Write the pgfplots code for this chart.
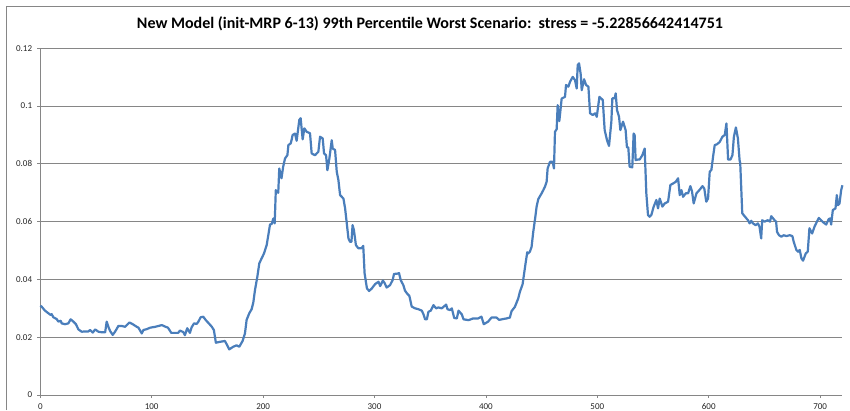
\documentclass[border=0pt]{standalone}
\usepackage{pgfplots}
\pgfplotsset{compat=1.18}
\usepackage{pgfplotstable}
\usepackage{fontspec}
\setmainfont{Carlito}
\definecolor{xlblue}{RGB}{74,126,187}
\definecolor{xlgrid}{RGB}{134,134,134}
\definecolor{xlframe}{RGB}{134,134,134}
\pgfplotstableread{
x y
0 0.0309
1.2 0.0306
4.2 0.0292
7.2 0.0283
9.3 0.0277
10.2 0.0280
11.7 0.0269
14.7 0.0263
16.2 0.0254
18.3 0.0257
19.2 0.0248
22.2 0.0245
25.2 0.0248
27.2 0.0262
29.7 0.0254
32 0.0245
34.2 0.0227
37.2 0.0219
40.2 0.0220
43.2 0.0220
44.7 0.0225
47.1 0.0216
49.2 0.0227
52.2 0.0219
55.2 0.0217
58.2 0.0217
59.6 0.0254
61.1 0.0236
62.6 0.0222
65 0.0208
67.1 0.0219
70.1 0.0239
73.1 0.0239
76.1 0.0236
80 0.0251
83 0.0245
86.6 0.0236
88.1 0.0233
91.1 0.0213
92.6 0.0225
95.6 0.0228
98.6 0.0233
103.1 0.0236
106.1 0.0239
109.1 0.0242
112.5 0.0236
114.6 0.0233
117.6 0.0215
120.6 0.0215
123.8 0.0215
125.3 0.0223
128.3 0.0218
129.8 0.0207
131.9 0.0231
134.3 0.0215
135.8 0.0234
138 0.0248
140.3 0.0246
141.8 0.0253
143.9 0.0269
146.3 0.0271
148.6 0.0259
151.7 0.0246
153.8 0.0237
155.8 0.0225
157.6 0.0181
161.2 0.0184
165.7 0.0187
167.8 0.0172
169.6 0.0158
173.2 0.0167
176.2 0.0172
178.6 0.0167
181.6 0.0187
183.7 0.0213
185.2 0.0260
187.6 0.0283
189.7 0.0297
191.2 0.0320
192.7 0.0363
194.8 0.0409
196.6 0.0456
198.7 0.0473
200.8 0.0490
203.2 0.0519
204.7 0.0554
206.2 0.0590
207.7 0.0592
209.2 0.0611
210.4 0.0594
211.4 0.0709
213.6 0.0700
214.5 0.0784
216.5 0.0750
218.0 0.0790
219.7 0.0819
221.8 0.0830
222.7 0.0865
224.8 0.0871
225.7 0.0885
226.5 0.0900
228.6 0.0905
230.1 0.0880
232.5 0.0952
233.7 0.0958
235.5 0.0885
237 0.0923
239.1 0.0911
242.1 0.0906
243.6 0.0836
246.6 0.0830
249.6 0.0842
251.1 0.0894
253.5 0.0888
254.7 0.0836
256.5 0.0830
257.7 0.0778
259.5 0.0819
261.6 0.0882
262.5 0.0853
264.6 0.0848
266.1 0.0773
267.6 0.0744
269.1 0.0692
272.1 0.0680
273.6 0.0646
275.1 0.0594
276.6 0.0542
278.1 0.0530
279.3 0.0530
280.3 0.0588
281.5 0.0571
283.3 0.0519
285.4 0.0508
288.4 0.0508
289.9 0.0516
291.1 0.0421
293.2 0.0369
295.2 0.0360
297.6 0.0369
300.6 0.0384
303.6 0.0392
305.1 0.0377
307.5 0.0396
309 0.0388
310.9 0.0372
313.9 0.0380
316.3 0.0398
317.5 0.0419
320.5 0.0420
322 0.0422
323.5 0.0398
325.9 0.0380
327.4 0.0361
329.5 0.0350
331.3 0.0343
333.4 0.0306
336.4 0.0300
339.4 0.0297
342.4 0.0292
343.9 0.0280
345.4 0.0262
347 0.0262
348.4 0.0288
350.5 0.0292
352.9 0.0311
355.3 0.0300
357.4 0.0303
360.4 0.0300
364.3 0.0313
365.5 0.0297
367.9 0.0294
369.4 0.0300
371.5 0.0267
373.9 0.0265
375.4 0.0292
378.4 0.0279
379.9 0.0262
384.4 0.0259
388.5 0.0265
393 0.0265
396 0.0271
398.1 0.0245
402 0.0254
405 0.0268
409.5 0.0268
411.9 0.0260
415.5 0.0263
418.5 0.0265
421.5 0.0268
423 0.0290
426 0.0305
429 0.0334
430.5 0.0357
432.9 0.0383
434.1 0.0415
435.6 0.0456
437.1 0.0494
438 0.0490
439.5 0.0496
441 0.0513
442.5 0.0565
444 0.0606
445.5 0.0652
447 0.0678
450 0.0698
451.5 0.0709
453 0.0721
454.5 0.0738
455.4 0.0784
457.5 0.0807
459.9 0.0807
461.1 0.0784
462 0.0911
463.5 0.0920
464.4 0.1003
465.9 0.0948
468 0.1026
471 0.1032
471.9 0.1073
474 0.1067
475.5 0.1084
477.9 0.1101
480 0.1090
481.5 0.1061
482.4 0.1142
483.6 0.1148
485.1 0.1110
486 0.1055
488.1 0.1093
489.9 0.1073
492 0.1067
493.5 0.0975
495.9 0.0969
498 0.0975
499.5 0.0963
501.9 0.1032
504.9 0.1021
506.6 0.0917
508.7 0.0882
510.5 0.0862
512.6 0.0946
513.5 0.1027
515.6 0.1027
516.5 0.1044
517.7 0.0986
519.5 0.0963
520.7 0.0917
523.1 0.0946
525.4 0.0917
526.6 0.0857
527.8 0.0857
529 0.0790
531.4 0.0788
532.6 0.0905
533.5 0.0900
534.4 0.0813
536.5 0.0815
538 0.0815
540.4 0.0830
542.5 0.0853
544 0.0698
545.5 0.0623
547 0.0617
548.5 0.0623
550.6 0.0652
553 0.0675
554.5 0.0646
556 0.0680
558.4 0.0652
560.5 0.0663
563.5 0.0669
565.6 0.0727
568 0.0732
570.4 0.0738
572.5 0.0750
574 0.0692
575.5 0.0709
577 0.0686
579.4 0.0698
581.5 0.0698
583.5 0.0723
585 0.0705
586.5 0.0663
589 0.0698
592 0.0711
594.4 0.0723
596 0.0715
597.8 0.0669
599.4 0.0680
600.9 0.0773
602.4 0.0779
603.9 0.0825
605.4 0.0865
607.5 0.0868
609.9 0.0876
612.3 0.0894
614.4 0.0900
615.9 0.0940
617.4 0.0815
619.5 0.0815
621.3 0.0830
622.6 0.0894
624.4 0.0926
626.2 0.0888
627.7 0.0813
628.3 0.0802
630.1 0.0629
632.2 0.0619
635.2 0.0605
636.7 0.0594
638.2 0.0603
639.7 0.0594
642.1 0.0588
644.2 0.0594
645.6 0.0582
647.1 0.0542
648 0.0605
650.1 0.0600
653.1 0.0605
655 0.0600
656.1 0.0619
659.1 0.0605
660.5 0.0600
661.3 0.0565
663.1 0.0553
665.2 0.0548
667.3 0.0553
669.7 0.0550
672.7 0.0553
675.1 0.0550
676.3 0.0530
678.7 0.0502
680.2 0.0496
681.7 0.0502
683.2 0.0473
684.7 0.0465
687.1 0.0490
688.9 0.0496
690.4 0.0577
692.8 0.0559
694.9 0.0582
697 0.0599
698.8 0.0613
700.9 0.0605
703 0.0597
705.4 0.0590
707.8 0.0609
709 0.0611
709.9 0.0590
711.4 0.0640
713.8 0.0646
715 0.0692
715.9 0.0657
717.4 0.0663
718.9 0.0709
720 0.0726
}\series
\begin{document}
\begin{tikzpicture}[x=1pt,y=1pt]
\useasboundingbox (0,0) rectangle (850,410);
\fill[white] (0,0) rectangle (850,410);
\draw[xlframe, line width=1pt] (6.5,0) -- (6.5,403.5) -- (850,403.5);
\coordinate (O) at (40.3,15);
\node[font=\bfseries, text=black] at (430,386.7) {\resizebox{586pt}{!}{New Model (init-MRP 6-13) 99th Percentile Worst Scenario:\ \ stress = -5.22856642414751}};
\begin{axis}[
  at={(O)}, anchor=origin,
  scale only axis, width=802.1pt, height=346.7pt,
  xmin=0, xmax=720, ymin=0, ymax=0.12,
  axis x line*=bottom, axis y line*=left,
  axis line style={xlgrid, line width=0.8pt},
  xtick={0,100,...,700},
  ytick={0,0.02,0.04,0.06,0.08,0.1,0.12},
  yticklabels={0,0.02,0.04,0.06,0.08,0.1,0.12},
  xticklabels={0,100,200,300,400,500,600,700},
  ymajorgrids, grid style={xlgrid, line width=0.8pt},
  tick align=outside, major tick length=3pt,
  tick style={xlgrid, line width=0.8pt},
  tick label style={font=\fontsize{9}{10}\selectfont, text=black!85, inner sep=0pt},
  yticklabel style={xshift=-5pt},
  xticklabel style={yshift=-5pt},
  /pgf/number format/assume math mode=true,
  clip=false,
]
\addplot[xlblue, line width=2.2pt, line join=round] table[x=x,y=y] {\series};
\end{axis}
\end{tikzpicture}
\end{document}
